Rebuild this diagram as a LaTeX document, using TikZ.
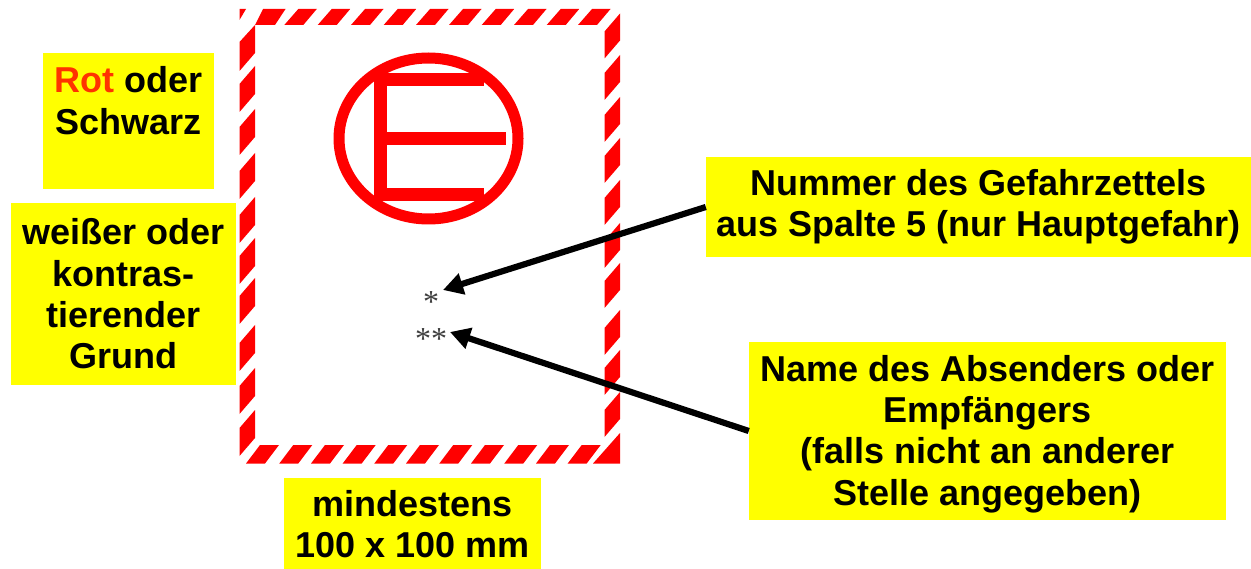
\documentclass[tikz,border=0pt]{standalone}
\usepackage{fontspec}
\setmainfont{Liberation Sans}
\newfontfamily\starfont{Liberation Serif}
\usetikzlibrary{arrows.meta}
\definecolor{rotrot}{RGB}{255,0,0}
\definecolor{rotorange}{RGB}{255,51,0}
\definecolor{gelb}{RGB}{255,255,0}
\tikzset{
  x=1pt,y=-1pt,
  gelbbox/.style={fill=gelb,inner sep=0pt,align=center,anchor=center,
    font=\fontsize{36}{41.4}\selectfont\bfseries},
  stern/.style={inner sep=0pt,text=black!75,font=\fontsize{32}{32}\selectfont\starfont},
  pfeil/.style={line width=6.2pt,-{Triangle[length=20pt,width=21pt]}},
  streifen/.style={fill=rotrot,draw=none},
  zeichen/.style={draw=rotrot,line width=11pt,line cap=butt}
}
\newcommand{\boxat}[6]{% name x0 y0 x1 y1 text
  \node[gelbbox,minimum width=#4pt-#2pt,minimum height=#5pt-#3pt] (#1) at ({(#2+#4)/2},{(#3+#5)/2}) {#6};
}
\begin{document}
\begin{tikzpicture}
\useasboundingbox (0,0) rectangle (1251,569);
\fill[white] (0,0) rectangle (1251,569);
% top band
\foreach \t in {298.3,331.7,365,397.7,430,463,495.7,528,560.7,592}{
  \fill[streifen] (\t,9) -- (\t+18.5,9) -- (\t+5,25) -- (\t-14,25) -- cycle;
}
% top-left corner
\fill[streifen] (239.5,9) -- (246,9) -- (239.5,20) -- cycle;
\fill[streifen] (263,9) -- (285.5,9) -- (275,25) -- (255,25) -- (255,53) -- (239.5,71) -- (239.5,42) -- (255,25) -- cycle;
% left band
\foreach \t in {66,109,153,197,238,278,325,368,410}{
  \fill[streifen] (255,\t) -- (255,\t+28) -- (239.5,\t+46) -- (239.5,\t+18) -- cycle;
}
% right band
\foreach \t in {13.5,55,97,138,180,223,263,310,350,392}{
  \fill[streifen] (620,\t) -- (620,\t+27) -- (604.5,\t+45) -- (604.5,\t+18) -- cycle;
}
% bottom band
\foreach \t in {260,293.3,325,356.7,388.3,420,453.3,485,518.3,550,581.7}{
  \fill[streifen] (\t,445) -- (\t+19,445) -- (\t+5,463.5) -- (\t-14,463.5) -- cycle;
}
\fill[streifen] (620,433) -- (620,463.5) -- (593,463.5) -- cycle;
% symbol
\draw[zeichen] (428.5,138.5) ellipse [x radius=89.5,y radius=80.5];
\fill[rotrot] (373.5,73.5) rectangle (483.5,86);
\fill[rotrot] (373.5,132.5) rectangle (506,145);
\fill[rotrot] (373.5,188.5) rectangle (483.5,201);
\fill[rotrot] (373.5,73.5) rectangle (386.5,201);
% stars
\node[stern] (s1) at (431,302) {*};
\node[stern] (s2) at (431,339) {**};
\coordinate (tip1) at (443,290);
\coordinate (tip2) at (450,332);
% boxes
\boxat{rot}{43}{53}{214}{189}{\textcolor{rotorange}{Rot} oder\\Schwarz\\~}
\boxat{grund}{11}{203}{236}{385}{weißer oder\\kontras-\\tierender\\Grund}
\boxat{mind}{284}{478}{541}{570}{mindestens\\100 x 100 mm}
\boxat{nummer}{706}{157}{1251}{257}{Nummer des Gefahrzettels\\aus Spalte 5 (nur Hauptgefahr)}
\boxat{name}{749}{342}{1226}{520}{\rule{0pt}{32pt}Name des Absenders oder\\Empfängers\\(falls nicht an anderer\\Stelle angegeben)}
% arrows
\draw[pfeil] (nummer.west) -- (tip1);
\draw[pfeil] (name.west) -- (tip2);
\end{tikzpicture}
\end{document}
